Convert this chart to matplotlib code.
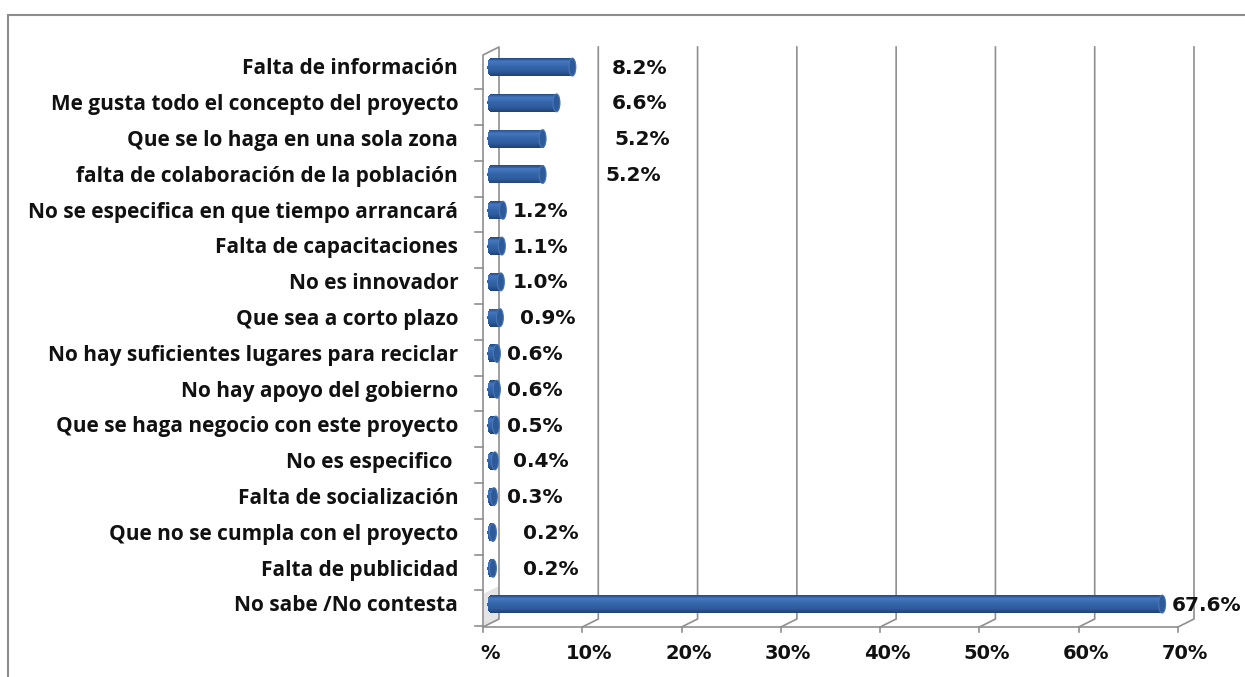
import numpy as np
import matplotlib
matplotlib.use("Agg")
import matplotlib.pyplot as plt
from matplotlib.patches import Ellipse, Polygon, Rectangle
from matplotlib.colors import LinearSegmentedColormap

# data (top to bottom)
categories = [
    "Falta de información",
    "Me gusta todo el concepto del proyecto",
    "Que se lo haga en una sola zona",
    "falta de colaboración de la población",
    "No se especifica en que tiempo arrancará",
    "Falta de capacitaciones",
    "No es innovador",
    "Que sea a corto plazo",
    "No hay suficientes lugares para reciclar",
    "No hay apoyo del gobierno",
    "Que se haga negocio con este proyecto",
    "No es especifico ",
    "Falta de socialización",
    "Que no se cumpla con el proyecto",
    "Falta de publicidad",
    "No sabe /No contesta",
]
values = [8.2, 6.6, 5.2, 5.2, 1.2, 1.1, 1.0, 0.9, 0.6, 0.6, 0.5, 0.4, 0.3, 0.2, 0.2, 67.6]
value_labels = ["8.2%", "6.6%", "5.2%", "5.2%", "1.2%", "1.1%", "1.0%", "0.9%",
                "0.6%", "0.6%", "0.5%", "0.4%", "0.3%", "0.2%", "0.2%", "67.6%"]
# where Excel put each data label (x in %)
label_x = [13.0, 13.0, 13.2, 12.3, 3.0, 3.0, 3.0, 3.7, 2.4, 2.4, 2.4, 3.0, 2.4, 4.0, 4.0, 69.4]
x_ticks = [0, 10, 20, 30, 40, 50, 60, 70]
x_tick_labels = ["%", "10%", "20%", "30%", "40%", "50%", "60%", "70%"]

W, H = 1245, 677
fig = plt.figure(figsize=(W / 100, H / 100), dpi=100)
fig.patch.set_facecolor("white")

# outer chart frame (only top/left edges visible)
fig.add_artist(Rectangle((8 / W, -0.1), 1.2, 1 - 15 / H + 0.1, transform=fig.transFigure,
                         fill=False, edgecolor="#8c8c8c", lw=1.5))

# axes = front plane of the 3D box
ax = fig.add_axes([483 / W, (H - 627) / H, (1178 - 483) / W, 580 / H])
ax.set_xlim(0, 70)
y_floor, y_top = 15.64, -0.56
ax.set_ylim(y_floor, y_top)
ax.axis("off")

DX = 16 / 9.93   # depth offset in x (%)
DY = 8 / 35.8    # depth offset in y (category units)
grid_c = "#8f8f8f"

# back-wall gridlines with the slanted floor part
for x in x_ticks[1:]:
    ax.plot([x, x + DX, x + DX], [y_floor, y_floor - DY, y_top], color=grid_c, lw=1.2,
            clip_on=False, solid_joinstyle="miter")
# left wall
ax.plot([0, 0, DX, DX, 0], [y_floor, y_top + DY, y_top, y_floor - DY, y_floor],
        color=grid_c, lw=1.2, clip_on=False)
ax.add_patch(Polygon([[0.1, 14.7], [DX, 14.5], [DX, y_floor - DY], [0.1, y_floor]],
                     closed=True, facecolor="#d9d9d9", edgecolor="none", alpha=0.7, zorder=1))
# floor front edge and ticks
ax.plot([0, 70], [y_floor, y_floor], color=grid_c, lw=1.2, clip_on=False)
for x in x_ticks:
    ax.plot([x, x], [y_floor, y_floor + 0.15], color=grid_c, lw=1.2, clip_on=False)
# category ticks on left edge
for i in range(len(categories)):
    ax.plot([-0.8, 0], [i + 0.62, i + 0.62], color=grid_c, lw=1.2, clip_on=False)

# cylinder bars built from horizontal strips with a vertical shading
cmap = LinearSegmentedColormap.from_list(
    "cyl", [(0.0, "#214b86"), (0.2, "#4677be"), (0.45, "#3566ab"),
            (0.75, "#2d5b9c"), (1.0, "#1f4276")])
x0, h, w, n = 0.8, 0.5, 0.7, 24
t = np.linspace(-1, 1, n + 1)
tc = (t[:-1] + t[1:]) / 2
ext = (w / 2) * np.sqrt(1 - tc ** 2)
for i, v in enumerate(values):
    ys = i + tc * h / 2
    ax.barh(ys, v + 2 * ext, left=x0 - ext, height=h / n * 1.15,
            color=cmap((tc + 1) / 2), edgecolor="none", zorder=3)
    ax.add_patch(Ellipse((x0 + v, i), w, h, facecolor="#2d5a99", edgecolor="#4a76b4",
                         lw=0.8, zorder=4))

txt_c = "#111111"
for i, cat in enumerate(categories):
    ax.text(-2.5, i + 0.05, cat, ha="right", va="center", fontsize=15, fontweight="bold",
            family="Open Sans", color=txt_c, clip_on=False)
for i, lab in enumerate(value_labels):
    ax.text(label_x[i], i + 0.03, lab, ha="left", va="center", fontsize=14.5, fontweight="bold",
            family="DejaVu Sans", color=txt_c, clip_on=False)
for x, lab in zip(x_ticks, x_tick_labels):
    ax.text(x + 0.7, 16.37, lab, ha="center", va="center", fontsize=14, fontweight="bold",
            family="DejaVu Sans", color=txt_c, clip_on=False)

fig.savefig("out.png", dpi=100)
